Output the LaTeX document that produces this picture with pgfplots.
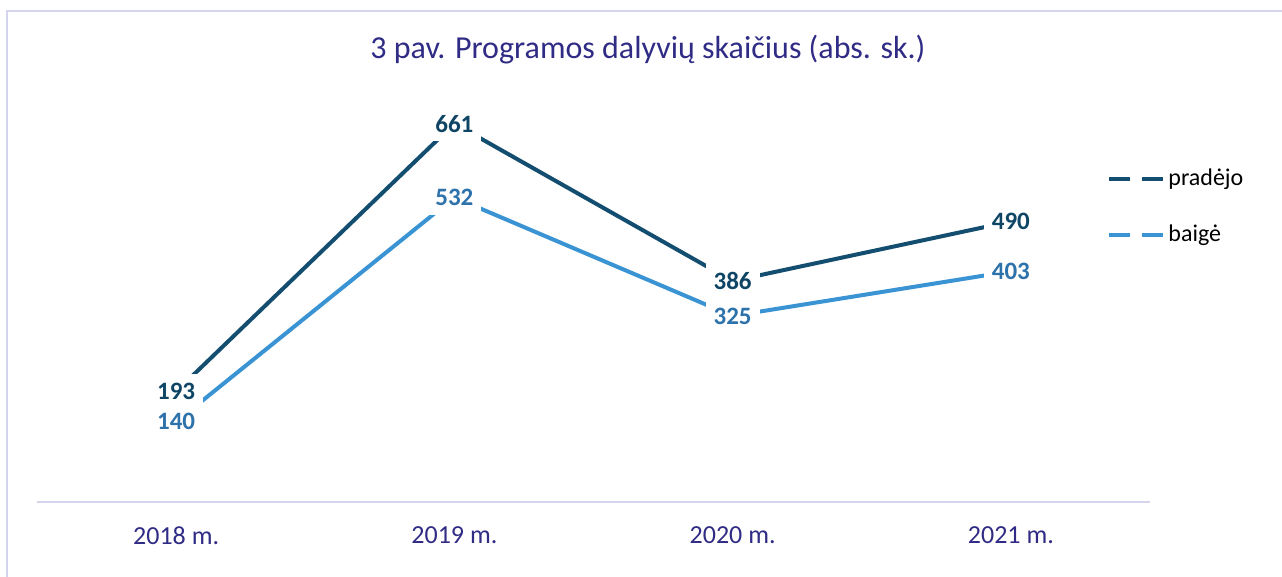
\documentclass[border=0pt]{standalone}
\usepackage{pgfplots}
\pgfplotsset{compat=1.18}
\usepackage{fontspec}
\setmainfont{Carlito}
\definecolor{darkline}{HTML}{134E70}
\definecolor{lightline}{HTML}{3A94D3}
\definecolor{darklab}{HTML}{0E4565}
\definecolor{lightlab}{HTML}{2E72AB}
\definecolor{txt}{HTML}{302C85}
\definecolor{axl}{HTML}{D4D4EE}
\begin{document}
\begin{tikzpicture}
\useasboundingbox (-18.5pt,-37.5pt) rectangle (622.5pt,251pt);
\draw[axl, line width=1pt] (-15pt,-40pt) -- (-15pt,245.5pt) -- (625pt,245.5pt);
\begin{axis}[
  scale only axis, width=556.5pt, height=229pt,
  xmin=-0.5, xmax=3.5, ymin=0, ymax=800,
  axis y line=none, axis x line*=bottom,
  x axis line style={axl, line width=1.2pt},
  xtick={0,1,2,3}, xticklabels={2018 m.,2019 m.,2020 m.,2021 m.},
  major tick length=0pt,
  xticklabel style={font=\fontsize{13}{15}\selectfont, text=txt, yshift=-9pt},
  clip=false,
  legend style={at={(0.9614,0.734)}, anchor=north west, draw=none, fill=none,
    inner sep=0pt, row sep=15pt, font=\fontsize{12}{14}\selectfont,
    nodes={inner sep=1.5pt}},
  legend cell align=left,
  legend image code/.code={\draw[line width=2pt, dash pattern=on 10.5pt off 6pt] (0pt,0pt) -- (27pt,0pt);},
  nodes near coords={\pgfmathprintnumber[assume math mode=true]{\pgfplotspointmeta}},
  every node near coord/.style={anchor=center, font=\bfseries\fontsize{12.5}{14}\selectfont, fill=white, inner xsep=4pt, inner ysep=4.5pt},
]
\addplot[darkline, line width=2pt, mark=none, every node near coord/.append style={text=darklab}]
  coordinates {(0,193) (1,661) (2,386) (3,490)};
\addlegendentry{pradėjo}
\addplot[lightline, line width=2pt, mark=none, every node near coord/.append style={text=lightlab}]
  coordinates {(0,140) (1,532) (2,325) (3,403)};
\addlegendentry{baigė}
\end{axis}
\node[font=\fontsize{16}{19}\selectfont, text=txt] at (305.5pt,226pt) {3 pav. Programos dalyvių skaičius (abs. sk.)};
\end{tikzpicture}
\end{document}
